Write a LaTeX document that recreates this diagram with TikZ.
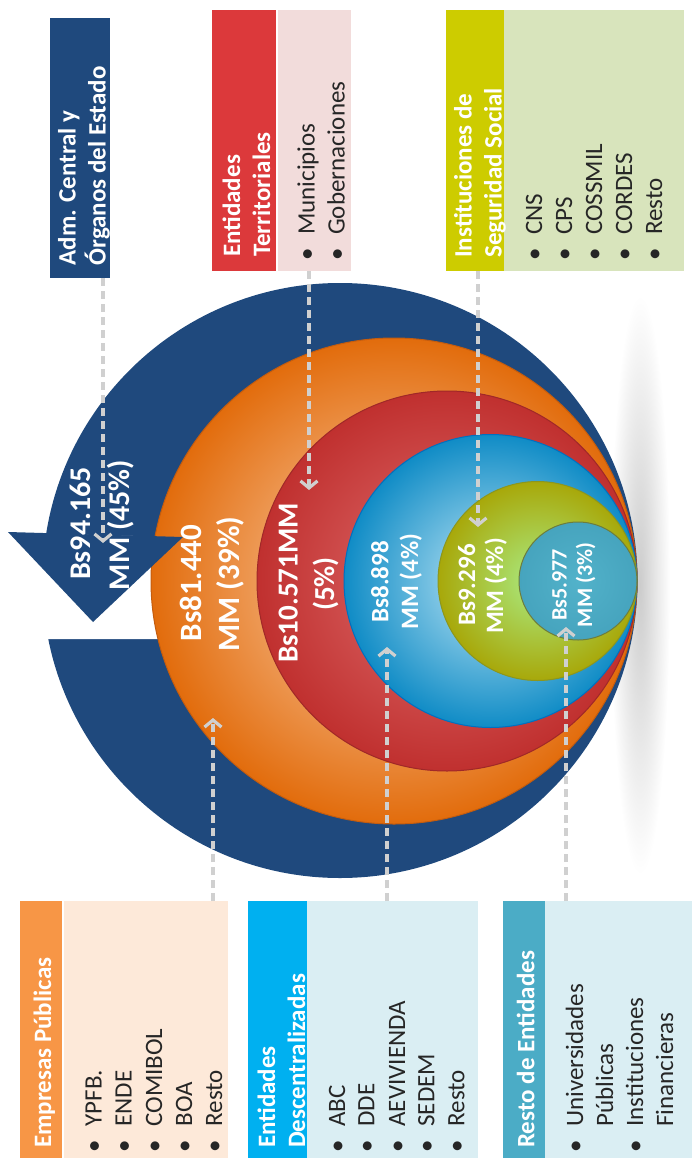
\documentclass[tikz,border=0pt]{standalone}
\usepackage{fontspec}
\setmainfont{Carlito}
\usetikzlibrary{arrows.meta}

\definecolor{navyc}{RGB}{31,73,125}
\definecolor{emporange}{RGB}{247,150,70}
\definecolor{emppeach}{RGB}{253,233,217}
\definecolor{terrred}{RGB}{220,57,59}
\definecolor{terrpink}{RGB}{242,220,219}
\definecolor{ssyellow}{RGB}{205,204,0}
\definecolor{ssgreen}{RGB}{216,228,188}
\definecolor{desccyan}{RGB}{0,176,240}
\definecolor{restteal}{RGB}{75,172,198}
\definecolor{lightblue}{RGB}{218,238,243}
\definecolor{itemgray}{RGB}{38,38,38}
\definecolor{linkgray}{RGB}{208,208,208}
\definecolor{orangehi}{RGB}{252,212,180}
\definecolor{orangelo}{RGB}{226,108,12}
\definecolor{orangeedge}{RGB}{196,92,14}
\definecolor{redhi}{RGB}{224,112,112}
\definecolor{redlo}{RGB}{192,48,47}
\definecolor{rededge}{RGB}{160,40,40}
\definecolor{bluehi}{RGB}{190,230,245}
\definecolor{bluelo}{RGB}{16,140,198}
\definecolor{blueedge}{RGB}{0,112,192}
\definecolor{greenhi}{RGB}{170,235,130}
\definecolor{greenlo}{RGB}{168,168,10}
\definecolor{greenedge}{RGB}{140,150,30}
\definecolor{tealhi}{RGB}{82,178,202}
\definecolor{teallo}{RGB}{70,164,190}
\definecolor{tealedge}{RGB}{110,125,60}

\newcommand\itembul{\makebox[26pt][l]{\textbullet}}

\tikzset{
	panel/.style={rectangle, inner sep=0pt, outer sep=0pt},
	hdr/.style={font=\bfseries\fontsize{25}{30}\selectfont, text=white, rotate=90, anchor=base west, inner sep=0pt},
	itm/.style={font=\fontsize{25}{30}\selectfont, text=itemgray, rotate=90, anchor=base west, inner sep=0pt},
	val/.style={font=\bfseries\fontsize{#1}{#1}\selectfont, text=white, rotate=90, anchor=base, inner sep=0pt},
	link/.style={draw=linkgray, line width=3.2pt, dash pattern=on 8pt off 5pt, -{Straight Barb[length=7pt,width=17pt]}}
}

\begin{document}
\begin{tikzpicture}[x=1pt, y=-1pt]
	\useasboundingbox (0,0) rectangle (692,1158);
	% shadow behind the circles
	\shade[inner color=black!20, outer color=white] (640,585) ellipse (30 and 290);
	% outer ring with the arrow
	\fill[navyc] (340,580.5) circle (297.5);
	\fill[white] (0,533) -- (200,537.5) -- (200,639) -- (0,639) -- cycle;
	\shadedraw[inner color=orangehi, outer color=orangelo, draw=orangeedge, line width=1pt] (394,581) circle (243);
	\shadedraw[inner color=redhi, outer color=redlo, draw=rededge, line width=1pt] (447,581) circle (190);
	\shadedraw[inner color=bluehi, outer color=bluelo, draw=blueedge, line width=1pt] (490.5,581) circle (146.5);
	\shadedraw[inner color=greenhi, outer color=greenlo, draw=greenedge, line width=1pt] (537.5,581) circle (99.5);
	\shadedraw[inner color=tealhi, outer color=teallo, draw=tealedge, line width=1pt] (578,581) circle (59);
	\fill[navyc] (8,532) -- (183,537) -- (93,622) -- cycle;

	% top panels
	\node[panel, fill=navyc, minimum width=60pt, minimum height=260pt] (admbox) at (80,148) {};
	\node[panel, fill=terrred, minimum width=64pt, minimum height=261pt] (terrhdr) at (244,140.5) {};
	\node[panel, fill=terrpink, minimum width=73pt, minimum height=261pt] (terrlist) at (314.5,140.5) {};
	\node[panel, fill=ssyellow, minimum width=58pt, minimum height=261pt] (sshdr) at (475,140.5) {};
	\node[panel, fill=ssgreen, minimum width=180pt, minimum height=261pt] (sslist) at (594,140.5) {};

	% bottom panels
	\node[panel, fill=emporange, minimum width=42pt, minimum height=257pt] (emphdr) at (41,1029.5) {};
	\node[panel, fill=emppeach, minimum width=164pt, minimum height=257pt] (emplist) at (146,1029.5) {};
	\node[panel, fill=desccyan, minimum width=59pt, minimum height=257pt] (deschdr) at (277.5,1029.5) {};
	\node[panel, fill=lightblue, minimum width=171pt, minimum height=257pt] (desclist) at (392.5,1029.5) {};
	\node[panel, fill=restteal, minimum width=42pt, minimum height=257pt] (resthdr) at (524,1029.5) {};
	\node[panel, fill=lightblue, minimum width=147pt, minimum height=257pt] (restlist) at (618.5,1029.5) {};

	% headers
	\node[hdr] (admA) at (75.7,265.7) {Adm. Central y};
	\node[hdr] (admB) at (105.7,265.7) {Órganos del Estado};
	\node[hdr] (terrA) at (240,257) {Entidades};
	\node[hdr] (terrB) at (270,257) {Territoriales};
	\node[hdr] (ssA) at (471.7,258) {Instituciones de};
	\node[hdr] (ssB) at (501.7,258) {Seguridad Social};
	\node[hdr] (empA) at (51,1148) {Empresas Públicas};
	\node[hdr] (descA) at (275,1148) {Entidades};
	\node[hdr] (descB) at (305,1148) {Descentralizadas};
	\node[hdr] (restA) at (534.3,1148) {Resto de Entidades};

	% lists
	\node[itm] (muni) at (314.5,261) {\itembul Municipios};
	\node[itm] (gober) at (344.5,261) {\itembul Gobernaciones};
	\node[itm] (cns) at (542,261) {\itembul CNS};
	\node[itm] (cps) at (572,261) {\itembul CPS};
	\node[itm] (cossmil) at (602,261) {\itembul COSSMIL};
	\node[itm] (cordes) at (632,261) {\itembul CORDES};
	\node[itm] (ssresto) at (662,261) {\itembul Resto};
	\node[itm] (ypfb) at (101.7,1152.7) {\itembul YPFB.};
	\node[itm] (ende) at (131.7,1152.7) {\itembul ENDE};
	\node[itm] (comibol) at (162,1152.7) {\itembul COMIBOL};
	\node[itm] (boa) at (192,1152.7) {\itembul BOA};
	\node[itm] (empresto) at (222,1152.7) {\itembul Resto};
	\node[itm] (abc) at (345,1152.7) {\itembul ABC};
	\node[itm] (dde) at (374.3,1152.7) {\itembul DDE};
	\node[itm] (aevi) at (405,1152.7) {\itembul AEVIVIENDA};
	\node[itm] (sedem) at (434.3,1152.7) {\itembul SEDEM};
	\node[itm] (descresto) at (464.3,1152.7) {\itembul Resto};
	\node[itm] (univ) at (583,1152.7) {\itembul Universidades};
	\node[itm] (univb) at (613,1126.7) {Públicas};
	\node[itm] (inst) at (643,1152.7) {\itembul Instituciones};
	\node[itm] (instb) at (673,1126.7) {Financieras};

	% amounts
	\node[val=30] (v45a) at (90.7,523.5) {Bs94.165};
	\node[val=30] (v45b) at (129,525) {MM (45\%)};
	\node[val=31] (v39a) at (201.7,583) {Bs81.440};
	\node[val=31] (v39b) at (239.7,584) {MM (39\%)};
	\node[val=29] (v5a) at (297.5,583) {Bs10.571MM};
	\node[val=29] (v5b) at (334,584) {(5\%)};
	\node[val=25] (v4a) at (388.3,581.7) {Bs8.898};
	\node[val=25] (v4b) at (418,581.5) {MM (4\%)};
	\node[val=25] (v4c) at (475,585) {Bs9.296};
	\node[val=25] (v4d) at (503,586) {MM (4\%)};
	\node[val=22] (v3a) at (566.7,585) {Bs5.977};
	\node[val=22] (v3b) at (592,585) {MM (3\%)};

	% dashed pointers
	\coordinate (admtip) at (103,543);
	\coordinate (terrtip) at (309,490);
	\coordinate (sstip) at (478,527);
	\coordinate (emptip) at (213,718);
	\coordinate (desctip) at (387,647);
	\coordinate (resttip) at (566,627);
	\draw[link] (admbox.south -| admtip) -- (admtip);
	\draw[link] (terrlist.south -| terrtip) -- (terrtip);
	\draw[link] (sshdr.south -| sstip) -- (sstip);
	\draw[link] (emplist.north -| emptip) -- (emptip);
	\draw[link] (desclist.north -| desctip) -- (desctip);
	\draw[link] (restlist.north -| resttip) -- (resttip);
\end{tikzpicture}
\end{document}
